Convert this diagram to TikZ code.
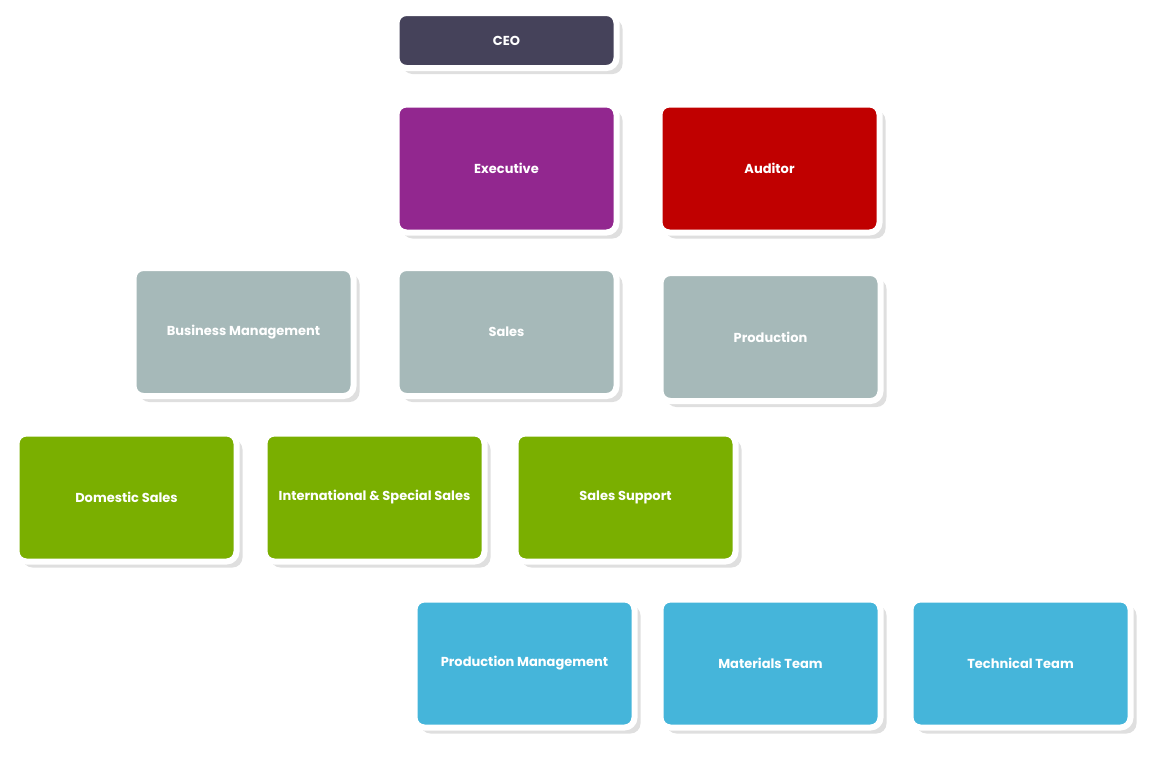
\documentclass[tikz,border=0pt]{standalone}
\usepackage{fontspec}
\setmainfont{Poppins}
\usetikzlibrary{positioning,shadows}
\definecolor{ceocol}{HTML}{45425A}
\definecolor{execcol}{HTML}{92278F}
\definecolor{audcol}{HTML}{C00000}
\definecolor{deptcol}{HTML}{A6B9B9}
\definecolor{salescol}{HTML}{7AAF00}
\definecolor{prodcol}{HTML}{45B5DA}
\tikzset{
  unit/.style={draw=white, line width=0.6mm, rounded corners=1mm, inner sep=0pt,
    minimum width=2.2cm, minimum height=1.28cm, text=white,
    font=\fontsize{3.7}{5}\selectfont\bfseries,
    drop shadow={shadow xshift=0.6mm, shadow yshift=-0.6mm, fill=black!25}}
}
\begin{document}
\begin{tikzpicture}
\useasboundingbox (0,0) rectangle (11.49,7.61);
% Top level
\node[unit, fill=ceocol, minimum height=0.55cm] (ceo) at (5.065,7.205) {CEO};
\node[unit, fill=execcol] (exec) at (5.065,5.925) {Executive};
\node[unit, fill=audcol, right=0.37cm of exec] (auditor) {Auditor};

% Departments
\node[unit, fill=deptcol] (sales) at (5.065,4.29) {Sales};
\node[unit, fill=deptcol, left=0.37cm of sales] (business) {Business Management};
\node[unit, fill=deptcol, right=0.38cm of sales, yshift=-0.05cm] (production) {Production};

% Sales teams
\node[unit, fill=salescol] (domestic) at (1.265,2.635) {Domestic Sales};
\node[unit, fill=salescol, right=0.22cm of domestic] (intl) {International \& Special Sales};
\node[unit, fill=salescol, right=0.25cm of intl] (support) {Sales Support};

% Production teams
\node[unit, fill=prodcol] (prodmgmt) at (5.245,0.975) {Production Management};
\node[unit, fill=prodcol, right=0.20cm of prodmgmt] (materials) {Materials Team};
\node[unit, fill=prodcol, right=0.24cm of materials] (technical) {Technical Team};
\end{tikzpicture}
\end{document}
